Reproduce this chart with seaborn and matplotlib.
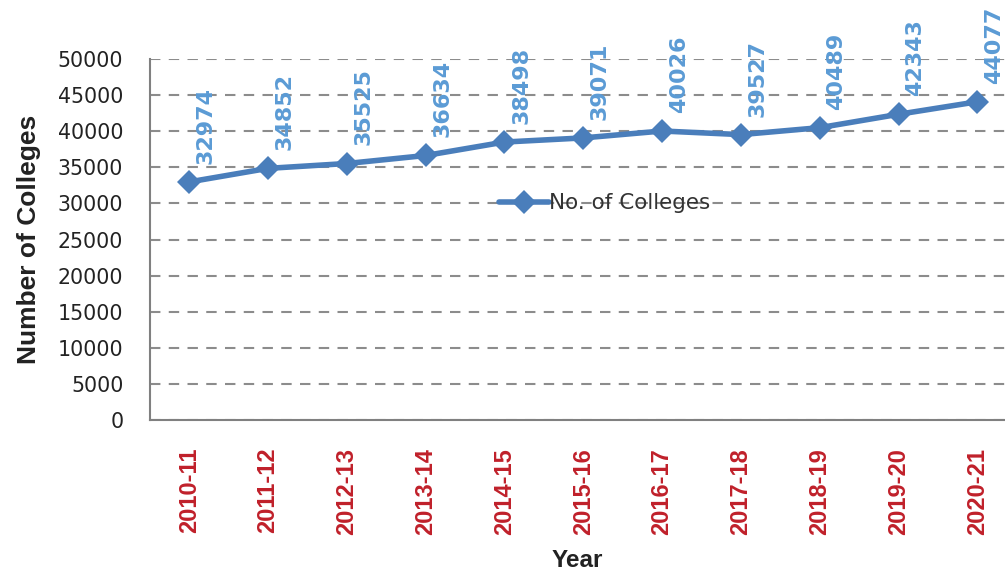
#%% IMPORTS
import matplotlib
matplotlib.use("Agg")
import matplotlib.pyplot as plt
import pandas as pd
import seaborn as sns

#%% DATA
years = ["2010-11", "2011-12", "2012-13", "2013-14", "2014-15", "2015-16",
         "2016-17", "2017-18", "2018-19", "2019-20", "2020-21"]
colleges = [32974, 34852, 35525, 36634, 38498, 39071,
            40026, 39527, 40489, 42343, 44077]
y_ticks = [0, 5000, 10000, 15000, 20000, 25000, 30000, 35000, 40000, 45000, 50000]

#%% STYLE
line_col = "#4a7ebb"
label_col = "#5b9bd5"
tick_red = "#c0202a"
grid_col = "#8c8c8c"

sns.set_style("white")
plt.rcParams["font.family"] = ["DejaVu Sans"]

#%% PLOT
df = pd.DataFrame({"Year": years, "Colleges": colleges})
df["pos"] = range(len(df))

fig = plt.figure(figsize=(10.05, 5.71), dpi=100)
ax = fig.add_axes([0.149, 0.2644, 0.851, 0.6323])

sns.lineplot(data=df, x="pos", y="Colleges", ax=ax, color=line_col,
             linewidth=4, marker="D", markersize=12, markeredgewidth=0,
             label="No. of Colleges")

for x, v in zip(df["pos"], df["Colleges"]):
    ax.annotate(str(v), (x, v), xytext=(12, 13), textcoords="offset points",
                rotation=90, ha="center", va="bottom", color=label_col,
                fontsize=16, fontweight="bold")

ax.set_xlim(-0.5, 10.35)
ax.set_ylim(0, 50000)
ax.set_yticks(y_ticks)
ax.set_yticklabels([str(t) for t in y_ticks], fontsize=14.8, color="#222222")
ax.set_xticks(df["pos"])
ax.set_xticklabels(years, rotation=90, color=tick_red, fontsize=17,
                   fontweight="bold", family="Liberation Sans")
ax.tick_params(axis="both", length=0)
ax.tick_params(axis="x", pad=20)
ax.tick_params(axis="y", pad=19)

ax.yaxis.grid(True, linestyle=(0, (5, 4)), color=grid_col, linewidth=1.5)
ax.set_axisbelow(True)
for side in ["top", "right"]:
    ax.spines[side].set_visible(False)
for side in ["left", "bottom"]:
    ax.spines[side].set_color("#808080")
    ax.spines[side].set_linewidth(1.5)

ax.set_xlabel("Year", fontsize=17.5, fontweight="bold", family="Liberation Sans",
              color="#222222", labelpad=10)
ax.set_ylabel("Number of Colleges", fontsize=19, fontweight="bold",
              family="Liberation Sans", color="#222222", labelpad=12)

leg = ax.legend(loc="center", bbox_to_anchor=(0.532, 0.6), frameon=False,
                fontsize=15.5, handlelength=2.3, handletextpad=0.0)
for t in leg.get_texts():
    t.set_color("#333333")

fig.savefig("out.png", dpi=100)
